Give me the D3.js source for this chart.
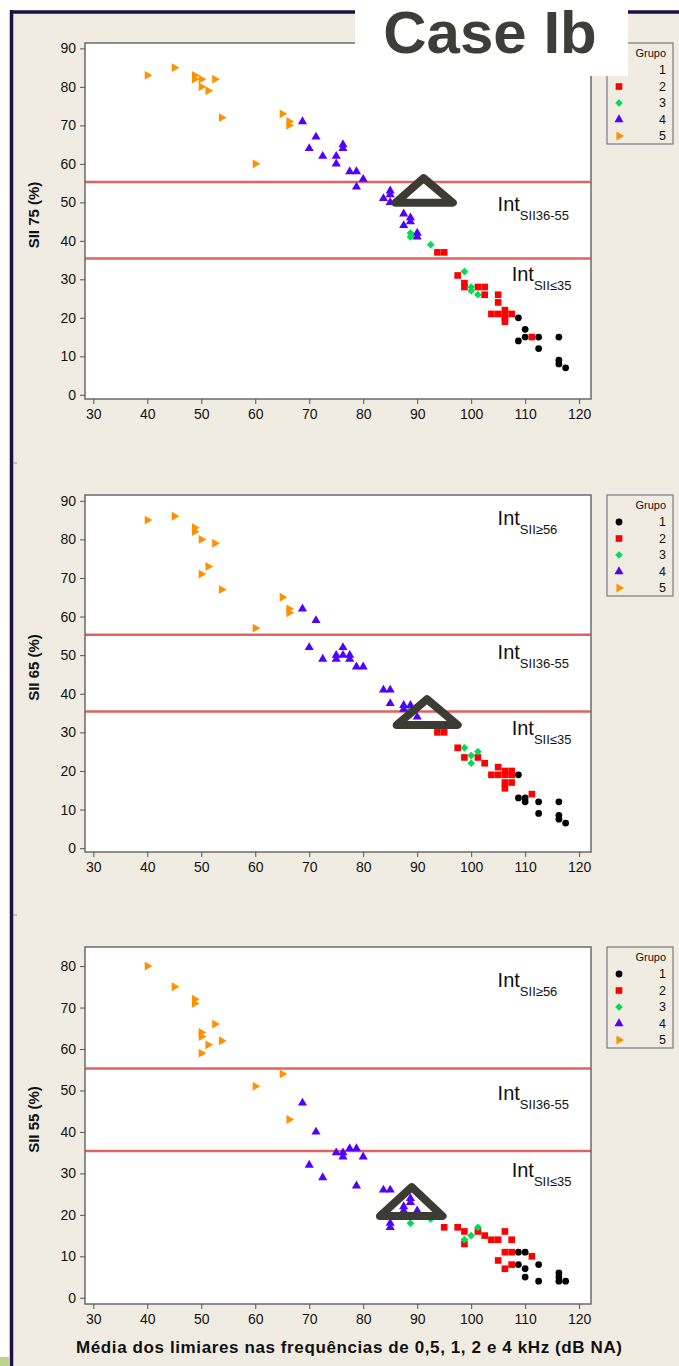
<!DOCTYPE html>
<html>
<head>
<meta charset="utf-8">
<script src="https://cdn.jsdelivr.net/npm/d3@7"></script>
<style>
  body { margin: 0; background: #fff; }
  text { font-family: "Liberation Sans", Arial, sans-serif; }
</style>
</head>
<body>
<div id="chart"></div>
<script>
// groups and colours
const groups = ["1", "2", "3", "4", "5"];
const groupColors = ["#000000", "#ff0000", "#00dd55", "#5200ff", "#ff9100"];

// axis ticks
const xTicks = [30, 40, 50, 60, 70, 80, 90, 100, 110, 120];
const yTicks90 = [0, 10, 20, 30, 40, 50, 60, 70, 80, 90];
const yTicks80 = [0, 10, 20, 30, 40, 50, 60, 70, 80];
const cutLines = [55.3, 35.4];

// annotation labels (null = not shown in that panel)
const intLabels = ["SII≥56", "SII36-55", "SII≤35"];
const labelX = [104.9, 104.9, 107.5];
const labelY75 = [null, 47.8, 29.6];
const labelY65 = [83.7, 48.9, 29.3];
const labelY55 = [74.9, 47.6, 29.1];

// big triangle annotations (data units)
const annot75 = [[86.0, 49.9], [91.2, 56.3], [96.6, 49.9]];
const annot65 = [[86.2, 31.9], [91.8, 38.6], [97.5, 31.9]];
const annot55 = [[83.1, 19.7], [89.0, 26.7], [94.7, 19.7]];

// ---- SII 75 ----
const sii75_g1 = [[108.75,20],[110,17],[108.75,14],[110,15],[112.5,15],[112.5,12],[116.25,15],[116.25,9],[116.25,8],[117.5,7]];
const sii75_g2 = [[93.75,37],[95,37],[97.5,31],[98.75,29],[98.75,28],[101.25,28],[102.5,28],[102.5,26],[105,26],[105,24],
                  [103.75,21],[105,21],[106.25,22],[106.25,21],[106.25,20],[106.25,19],[107.5,21],[111.25,15]];
const sii75_g3 = [[88.75,42],[88.75,41],[92.5,39],[98.75,32],[100,28],[100,27],[101.25,26]];
const sii75_g4 = [[68.75,71],[70,64],[71.25,67],[72.5,62],[75,62],[75,60],[76.25,65],[76.25,64],[77.5,58],[78.75,58],[78.75,54],
                  [80,56],[83.75,51],[85,53],[85,52],[85,50],[87.5,47],[87.5,44],[88.75,46],[88.75,45],[90,42],[90,41]];
const sii75_g5 = [[40,83],[45,85],[48.75,83],[48.75,82],[50,82],[50,80],[51.25,79],[52.5,82],[53.75,72],[60,60],[65,73],[66.25,71],[66.25,70]];

// ---- SII 65 ----
const sii65_g1 = [[108.75,19],[108.75,13],[110,13],[110,12],[112.5,12],[112.5,9],[116.25,12],[116.25,8.5],[116.25,7.5],[117.5,6.5]];
const sii65_g2 = [[93.75,30],[95,30],[97.5,26],[98.75,23.5],[101.25,23.5],[102.5,22],[105,21],[103.75,19],[105,19],[106.25,20],
                  [106.25,19],[107.5,20],[107.5,19],[106.25,17],[107.5,17],[106.25,15.5],[111.25,14]];
const sii65_g3 = [[88.75,36],[92.5,32],[98.75,26],[101.25,25],[100,24],[100,22]];
const sii65_g4 = [[68.75,62],[71.25,59],[70,52],[72.5,49],[75,50],[75,49],[76.25,52],[76.25,50],[77.5,50],[77.5,49],[78.75,47],
                  [80,47],[83.75,41],[85,41],[85,37.5],[87.5,37],[87.5,36],[88.75,37],[90,34]];
const sii65_g5 = [[40,85],[45,86],[48.75,83],[48.75,82],[50,80],[52.5,79],[51.25,73],[50,71],[53.75,67],[60,57],[65,65],[66.25,62],[66.25,61]];

// ---- SII 55 ----
const sii55_g1 = [[108.75,11],[110,11],[108.75,8],[110,7],[110,5],[112.5,8],[112.5,4],[116.25,6],[116.25,5],[116.25,4],[117.5,4]];
const sii55_g2 = [[95,17],[97.5,17],[98.75,16],[98.75,13],[101.25,16],[102.5,15],[103.75,14],[105,14],[106.25,16],[107.5,14],
                  [106.25,11],[107.5,11],[105,9],[106.25,7],[107.5,8],[111.25,10]];
const sii55_g3 = [[88.75,18],[92.5,19],[98.75,14],[100,15],[101.25,17]];
const sii55_g4 = [[68.75,47],[71.25,40],[70,32],[72.5,29],[75,35],[76.25,35],[76.25,34],[77.5,36],[78.75,36],[80,34],[78.75,27],
                  [83.75,26],[85,26],[85,18],[85,17],[87.5,22],[87.5,21],[88.75,24],[88.75,23],[90,21]];
const sii55_g5 = [[40,80],[45,75],[48.75,72],[48.75,71],[50,64],[50,63],[50,59],[51.25,61],[52.5,66],[53.75,62],[60,51],[65,54],[66.25,43]];

// SVG size
const svgWidth = 679;
const svgHeight = 1366;

const svg = d3.select("#chart")
    .append("svg")
    .attr("width", svgWidth)
    .attr("height", svgHeight);

// page background and frame
svg.append("rect").attr("x", 11).attr("y", 12).attr("width", svgWidth - 11).attr("height", svgHeight - 12).attr("fill", "#f1ece2");
svg.append("line").attr("x1", 10).attr("x2", svgWidth).attr("y1", 12).attr("y2", 12).attr("stroke", "#1f1048").attr("stroke-width", 3.5);
svg.append("line").attr("x1", 11.5).attr("x2", 11.5).attr("y1", 10).attr("y2", svgHeight).attr("stroke", "#1f1048").attr("stroke-width", 3.5);
svg.append("rect").attr("x", 0).attr("y", 1357).attr("width", 10).attr("height", 9).attr("fill", "#b9d58f");
[463, 915].forEach(y => svg.append("line").attr("x1", 13).attr("x2", 17).attr("y1", y).attr("y2", y).attr("stroke", "#999"));

// panels
const panels = [
    { title: "SII 75 (%)", top: 43, bottom: 399, yDomain: [-1.1, 91.4], yTicks: yTicks90,
      data: [sii75_g1, sii75_g2, sii75_g3, sii75_g4, sii75_g5], annot: annot75, labelY: labelY75 },
    { title: "SII 65 (%)", top: 495, bottom: 852, yDomain: [-1, 91.5], yTicks: yTicks90,
      data: [sii65_g1, sii65_g2, sii65_g3, sii65_g4, sii65_g5], annot: annot65, labelY: labelY65 },
    { title: "SII 55 (%)", top: 947, bottom: 1304, yDomain: [-1.5, 84.6], yTicks: yTicks80,
      data: [sii55_g1, sii55_g2, sii55_g3, sii55_g4, sii55_g5], annot: annot55, labelY: labelY55 }
];

const plotLeft = 85, plotRight = 591;
const xScale = d3.scaleLinear().domain([28.46, 122.2]).range([plotLeft, plotRight]);

// marker shapes by group (diamond = square turned 45°, group 5 = triangle turned right)
const symbolFor = [
    d3.symbol().type(d3.symbolCircle).size(36),
    d3.symbol().type(d3.symbolSquare).size(44),
    d3.symbol().type(d3.symbolSquare).size(30),
    d3.symbol().type(d3.symbolTriangle).size(36),
    d3.symbol().type(d3.symbolTriangle).size(34)
];
const rotFor = [0, 0, 45, 0, 90];

panels.forEach(function(p) {
    let yScale = d3.scaleLinear().domain(p.yDomain).range([p.bottom, p.top]);
    let g = svg.append("g");

    // plot area
    g.append("rect")
        .attr("x", plotLeft).attr("y", p.top)
        .attr("width", plotRight - plotLeft).attr("height", p.bottom - p.top)
        .attr("fill", "#fff");

    // cut-off lines
    g.selectAll(".cut")
        .data(cutLines)
        .enter()
        .append("line")
        .attr("x1", plotLeft).attr("x2", plotRight)
        .attr("y1", d => yScale(d)).attr("y2", d => yScale(d))
        .attr("stroke", "#e06262")
        .attr("stroke-width", 2.5);

    // points
    p.data.forEach(function(pts, gi) {
        g.append("g")
            .selectAll("path")
            .data(pts)
            .enter()
            .append("path")
            .attr("d", symbolFor[gi])
            .attr("transform", d => `translate(${xScale(d[0])},${yScale(d[1])}) rotate(${rotFor[gi]})`)
            .attr("fill", groupColors[gi]);
    });

    // big triangle annotation
    g.append("path")
        .attr("d", d3.line().x(d => xScale(d[0])).y(d => yScale(d[1]))(p.annot) + "Z")
        .attr("fill", "none")
        .attr("stroke", "#3c3c35")
        .attr("stroke-width", 8)
        .attr("stroke-linejoin", "round");

    // Int labels
    intLabels.forEach(function(lbl, i) {
        if (p.labelY[i] === null) return;
        let t = g.append("text")
            .attr("x", xScale(labelX[i]))
            .attr("y", yScale(p.labelY[i]))
            .attr("fill", "#111")
            .style("font-size", "20px");
        t.append("tspan").text("Int");
        t.append("tspan").attr("dy", 9).style("font-size", "13px").text(lbl);
    });

    // frame
    g.append("rect")
        .attr("x", plotLeft).attr("y", p.top)
        .attr("width", plotRight - plotLeft).attr("height", p.bottom - p.top)
        .attr("fill", "none")
        .attr("stroke", "#6a6a6a")
        .attr("stroke-width", 1.5);

    // axes
    let leftAxis = d3.axisLeft(yScale).tickValues(p.yTicks).tickSize(5).tickSizeOuter(0).tickPadding(4);
    let ay = g.append("g").attr("transform", `translate(${plotLeft},0)`).call(leftAxis);
    ay.select(".domain").remove();
    ay.selectAll("line").attr("stroke", "#555");
    ay.selectAll("text").attr("fill", "#111").style("font-size", "14px").style("font-family", "Liberation Sans, Arial, sans-serif");

    let bottomAxis = d3.axisBottom(xScale).tickValues(xTicks).tickSize(5).tickSizeOuter(0).tickPadding(5);
    let ax = g.append("g").attr("transform", `translate(0,${p.bottom})`).call(bottomAxis);
    ax.select(".domain").remove();
    ax.selectAll("line").attr("stroke", "#555");
    ax.selectAll("text").attr("fill", "#111").style("font-size", "14px").style("font-family", "Liberation Sans, Arial, sans-serif");

    // y title
    g.append("text")
        .attr("transform", `translate(34,${(p.top + p.bottom) / 2 - 6}) rotate(-90)`)
        .attr("text-anchor", "middle")
        .attr("dy", "0.35em")
        .style("font-size", "15px")
        .style("font-weight", "bold")
        .attr("fill", "#111")
        .text(p.title);

    // legend
    let lg = g.append("g").attr("transform", `translate(607,${p.top})`);
    lg.append("rect").attr("width", 66).attr("height", 101)
        .attr("fill", "#f1ece2").attr("stroke", "#7a7a7a").attr("stroke-width", 1.2);
    lg.append("text").attr("x", 59).attr("y", 14).attr("text-anchor", "end")
        .style("font-size", "11px").attr("fill", "#111").text("Grupo");
    groups.forEach(function(name, i) {
        let cy = 27 + i * 16.5;
        lg.append("path")
            .attr("d", symbolFor[i])
            .attr("transform", `translate(12,${cy}) rotate(${rotFor[i]})`)
            .attr("fill", groupColors[i]);
        lg.append("text").attr("x", 59).attr("y", cy).attr("dy", "0.35em").attr("text-anchor", "end")
            .style("font-size", "12.5px").attr("fill", "#111").text(name);
    });
});

// x title
svg.append("text")
    .attr("x", 349)
    .attr("y", 1353)
    .attr("text-anchor", "middle")
    .attr("textLength", 546)
    .attr("lengthAdjust", "spacing")
    .style("font-size", "17px")
    .style("font-weight", "bold")
    .attr("fill", "#111")
    .text("Média dos limiares nas frequências de 0,5, 1, 2 e 4 kHz (dB NA)");

// title box
svg.append("rect").attr("x", 355).attr("y", 4).attr("width", 273).attr("height", 72).attr("fill", "#fff");
svg.append("text")
    .attr("x", 490)
    .attr("y", 53)
    .attr("text-anchor", "middle")
    .style("font-size", "60px")
    .style("font-weight", "bold")
    .attr("fill", "#3e3e39")
    .text("Case Ib");
</script>
</body>
</html>
